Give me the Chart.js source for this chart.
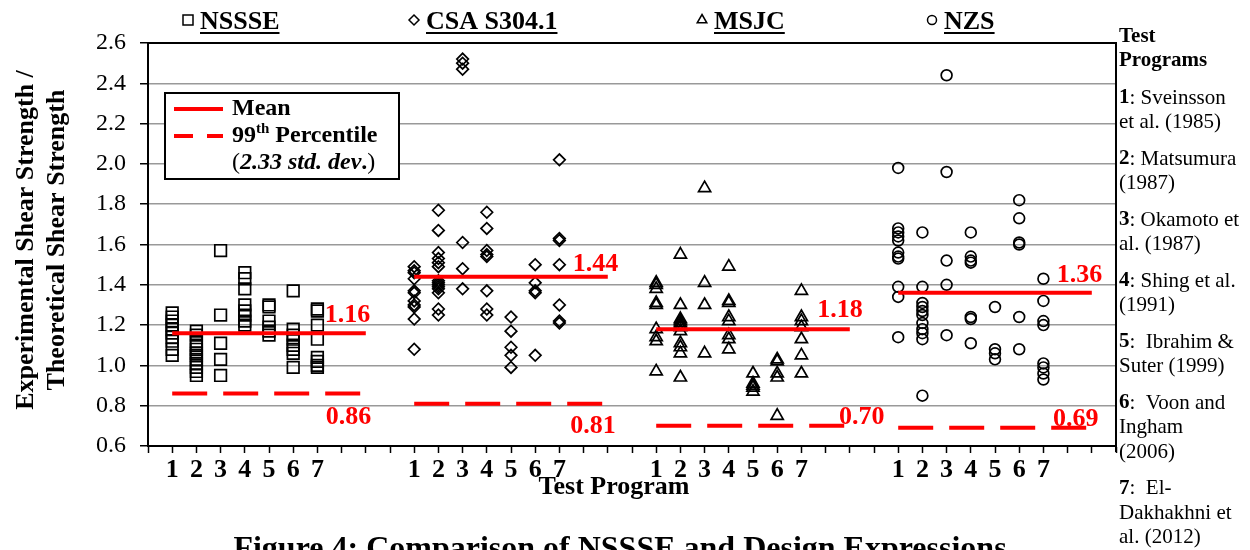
<!DOCTYPE html>
<html>
<head>
<meta charset="utf-8">
<script src="https://cdn.jsdelivr.net/npm/chart.js@4.4.1/dist/chart.umd.min.js"></script>
<style>
  body { margin: 0; background: #fff; }
  #wrap { width: 1250px; height: 550px; }
</style>
</head>
<body>
<div id="wrap"><canvas id="myChart" width="1250" height="550"></canvas></div>
<script>
const fontFamily = "'Liberation Serif', 'Times New Roman', serif"

// design expressions and test programs
const methods = ['NSSSE', 'CSA S304.1', 'MSJC', 'NZS']
const programLabels = ['1', '2', '3', '4', '5', '6', '7']
const groupStep = 10 // x units from one method to the next

// experimental / theoretical shear strength, one list per test program
const nssse = [
  [1.26, 1.24, 1.22, 1.20, 1.18, 1.16, 1.14, 1.12, 1.08, 1.05],
  [1.17, 1.15, 1.12, 1.10, 1.08, 1.06, 1.05, 1.03, 1.01, 0.99, 0.97, 0.95],
  [1.57, 1.25, 1.11, 1.03, 0.95],
  [1.46, 1.43, 1.38, 1.30, 1.27, 1.25, 1.22, 1.20],
  [1.30, 1.29, 1.22, 1.19, 1.17, 1.15],
  [1.37, 1.18, 1.15, 1.13, 1.10, 1.08, 1.06, 0.99],
  [1.28, 1.27, 1.20, 1.13, 1.04, 1.02, 1.00, 0.99]
]
const csa = [
  [1.49, 1.47, 1.46, 1.43, 1.37, 1.36, 1.32, 1.30, 1.29, 1.23, 1.08],
  [1.77, 1.67, 1.56, 1.53, 1.51, 1.49, 1.42, 1.41, 1.40, 1.39, 1.38, 1.36, 1.28, 1.25],
  [2.52, 2.50, 2.47, 1.61, 1.48, 1.38],
  [1.76, 1.68, 1.57, 1.55, 1.54, 1.37, 1.28, 1.25],
  [1.24, 1.17, 1.09, 1.05, 0.99],
  [1.50, 1.41, 1.37, 1.36, 1.05],
  [2.02, 1.63, 1.62, 1.50, 1.30, 1.22, 1.21]
]
const msjc = [
  [1.41, 1.40, 1.38, 1.31, 1.30, 1.18, 1.14, 1.12, 0.97],
  [1.55, 1.30, 1.23, 1.22, 1.21, 1.20, 1.19, 1.17, 1.11, 1.09, 1.06, 0.94],
  [1.88, 1.41, 1.30, 1.06],
  [1.49, 1.32, 1.31, 1.24, 1.22, 1.15, 1.13, 1.08],
  [0.96, 0.91, 0.90, 0.89, 0.87],
  [1.03, 1.02, 0.96, 0.94, 0.75],
  [1.37, 1.24, 1.22, 1.19, 1.13, 1.05, 0.96]
]
const nzs = [
  [1.98, 1.68, 1.66, 1.64, 1.62, 1.56, 1.54, 1.53, 1.39, 1.34, 1.14],
  [1.66, 1.39, 1.31, 1.29, 1.27, 1.25, 1.21, 1.18, 1.16, 1.13, 0.85],
  [2.44, 1.96, 1.52, 1.40, 1.15],
  [1.66, 1.54, 1.52, 1.51, 1.24, 1.23, 1.11],
  [1.29, 1.08, 1.06, 1.03],
  [1.82, 1.73, 1.61, 1.60, 1.24, 1.08],
  [1.43, 1.32, 1.22, 1.20, 1.01, 0.99, 0.96, 0.93]
]
const allResults = [nssse, csa, msjc, nzs]

const means = [1.16, 1.44, 1.18, 1.36]
const pct99 = [0.86, 0.81, 0.70, 0.69]

const yMin = 0.6
const yMax = 2.6
const yStep = 0.2

const references = [
  ['1', ': Sveinsson', 'et al. (1985)'],
  ['2', ': Matsumura', '(1987)'],
  ['3', ': Okamoto et', 'al. (1987)'],
  ['4', ': Shing et al.', '(1991)'],
  ['5', ':  Ibrahim &', 'Suter (1999)'],
  ['6', ':  Voon and', 'Ingham', '(2006)'],
  ['7', ':  El-', 'Dakhakhni et', 'al. (2012)']
]

// marker looks
const pointStyles = ['rect', 'rectRot', 'triangle', 'circle']
const pointRadii = [8.2, 5.8, 7, 5.4]
const headerX = [188, 414, 702, 932]

// where the red value labels sit: [x offset in program units, y offset in px]
const meanLabelPos = [[7.3, -18], [7.55, -12], [7.65, -19], [7.55, -18]]
const pctLabelPos = [[7.35, 24], [7.45, 23], [8.55, -9], [7.4, -9]]

function toPoints(results, g) {
  const pts = []
  results.forEach((vals, p) => {
    vals.forEach(v => pts.push({ x: g * groupStep + p + 1, y: v }))
  })
  return pts
}

function levelLine(value, g) {
  return [{ x: g * groupStep + 1, y: value }, { x: g * groupStep + 9, y: value }]
}

const lineSets = []
means.forEach((m, g) => {
  lineSets.push({
    data: levelLine(m, g), showLine: true, pointRadius: 0,
    borderColor: '#ff0000', borderWidth: 4
  })
})
pct99.forEach((m, g) => {
  lineSets.push({
    data: levelLine(m, g), showLine: true, pointRadius: 0,
    borderColor: '#ff0000', borderWidth: 4, borderDash: [35, 16]
  })
})

const pointSets = allResults.map((res, g) => ({
  label: methods[g],
  data: toPoints(res, g),
  pointStyle: pointStyles[g],
  pointRadius: pointRadii[g],
  backgroundColor: 'rgba(0,0,0,0)',
  borderColor: '#000',
  borderWidth: 1.7
}))

function setFont(ctx, size, weight = 'normal', style = 'normal') {
  ctx.font = `${style} ${weight} ${size}px ${fontFamily}`
}

function drawMarker(ctx, style, x, y, r) {
  ctx.beginPath()
  if (style === 'rect') {
    ctx.rect(x - r, y - r, 2 * r, 2 * r)
  } else if (style === 'rectRot') {
    ctx.moveTo(x, y - r); ctx.lineTo(x + r, y); ctx.lineTo(x, y + r); ctx.lineTo(x - r, y); ctx.closePath()
  } else if (style === 'triangle') {
    ctx.moveTo(x, y - r); ctx.lineTo(x + r * 0.87, y + r * 0.5); ctx.lineTo(x - r * 0.87, y + r * 0.5); ctx.closePath()
  } else {
    ctx.arc(x, y, r, 0, Math.PI * 2)
  }
  ctx.stroke()
}

// draw text made of several runs with different fonts
function drawRuns(ctx, runs, x, y) {
  runs.forEach(r => {
    setFont(ctx, r.size, r.weight || 'normal', r.style || 'normal')
    ctx.fillText(r.t, x, y + (r.dy || 0))
    x += ctx.measureText(r.t).width
  })
  return x
}

const decorations = {
  id: 'decorations',
  afterDraw(chart) {
    const { ctx, chartArea: a, scales: { x, y } } = chart
    ctx.save()

    // top and right frame
    ctx.strokeStyle = '#000'
    ctx.lineWidth = 2
    ctx.beginPath()
    ctx.moveTo(a.left, a.top)
    ctx.lineTo(a.right, a.top)
    ctx.lineTo(a.right, a.bottom + 6)
    ctx.stroke()

    // method headers
    ctx.fillStyle = '#000'
    ctx.textAlign = 'left'
    ctx.textBaseline = 'alphabetic'
    methods.forEach((m, g) => {
      ctx.lineWidth = 1.5
      drawMarker(ctx, pointStyles[g], headerX[g], 20, [5, 5, 5.5, 4.5][g])
      setFont(ctx, 26, 'bold')
      const tx = headerX[g] + 12
      ctx.fillText(m, tx, 29)
      const w = ctx.measureText(m).width
      ctx.lineWidth = 2
      ctx.beginPath()
      ctx.moveTo(tx, 33)
      ctx.lineTo(tx + w, 33)
      ctx.stroke()
    })

    // red value labels
    ctx.fillStyle = '#ff0000'
    ctx.textBaseline = 'middle'
    setFont(ctx, 26, 'bold')
    means.forEach((m, g) => {
      const p = meanLabelPos[g]
      ctx.fillText(m.toFixed(2), x.getPixelForValue(g * groupStep + p[0]), y.getPixelForValue(m) + p[1])
    })
    pct99.forEach((m, g) => {
      const p = pctLabelPos[g]
      ctx.fillText(m.toFixed(2), x.getPixelForValue(g * groupStep + p[0]), y.getPixelForValue(m) + p[1])
    })

    // legend box
    ctx.fillStyle = '#fff'
    ctx.fillRect(165, 93, 234, 86)
    ctx.strokeStyle = '#000'
    ctx.lineWidth = 2
    ctx.strokeRect(165, 93, 234, 86)
    ctx.strokeStyle = '#ff0000'
    ctx.lineWidth = 4
    ctx.beginPath(); ctx.moveTo(174, 109); ctx.lineTo(223, 109); ctx.stroke()
    ctx.setLineDash([19, 14])
    ctx.beginPath(); ctx.moveTo(174, 136); ctx.lineTo(223, 136); ctx.stroke()
    ctx.setLineDash([])
    ctx.fillStyle = '#000'
    drawRuns(ctx, [{ t: 'Mean', size: 24, weight: 'bold' }], 232, 109)
    drawRuns(ctx, [
      { t: '99', size: 24, weight: 'bold' },
      { t: 'th', size: 15, weight: 'bold', dy: -7 },
      { t: ' Percentile', size: 24, weight: 'bold' }
    ], 232, 136)
    drawRuns(ctx, [
      { t: '(', size: 24 },
      { t: '2.33 std. dev', size: 24, weight: 'bold', style: 'italic' },
      { t: '.', size: 24, weight: 'bold' },
      { t: ')', size: 24 }
    ], 232, 163)

    // y axis title
    setFont(ctx, 26, 'bold')
    ctx.textAlign = 'center'
    ctx.save()
    ctx.translate(26, 240)
    ctx.rotate(-Math.PI / 2)
    ctx.fillText('Experimental Shear Strength /', 0, 0)
    ctx.fillText('Theoretical Shear Strength', 0, 31)
    ctx.restore()

    // x axis title
    ctx.fillText('Test Program', 614, 487)

    // test program list
    ctx.textAlign = 'left'
    setFont(ctx, 21, 'bold')
    ctx.fillText('Test', 1119, 37)
    ctx.fillText('Programs', 1119, 61)
    let ly = 98
    references.forEach(ref => {
      drawRuns(ctx, [{ t: ref[0], size: 21, weight: 'bold' }, { t: ref[1], size: 21 }], 1119, ly)
      for (let i = 2; i < ref.length; i++) {
        ly += 24.5
        setFont(ctx, 21)
        ctx.fillText(ref[i], 1119, ly)
      }
      ly += 36.5
    })

    // figure caption, cut by the bottom edge
    ctx.textAlign = 'center'
    ctx.textBaseline = 'alphabetic'
    setFont(ctx, 32, 'bold')
    ctx.fillText('Figure 4: Comparison of NSSSE and Design Expressions', 620, 558)

    ctx.restore()
  }
}

const ctx = document.getElementById('myChart').getContext('2d')

new Chart(ctx, {
  type: 'scatter',
  data: {
    datasets: [...lineSets, ...pointSets]
  },
  options: {
    responsive: false,
    animation: false,
    devicePixelRatio: 1,
    layout: {
      padding: { left: 0, top: 43, right: 134, bottom: 0 }
    },
    plugins: {
      legend: { display: false },
      tooltip: { enabled: false }
    },
    scales: {
      x: {
        type: 'linear',
        min: 0,
        max: methods.length * groupStep,
        afterFit: scale => { scale.height = 104 },
        ticks: {
          stepSize: 1,
          autoSkip: false,
          maxRotation: 0,
          padding: 2,
          color: '#000',
          font: { family: fontFamily, size: 26, weight: 'bold' },
          callback: v => {
            const r = Math.round(v) % groupStep
            return (r >= 1 && r <= programLabels.length) ? programLabels[r - 1] : ''
          }
        },
        grid: {
          drawOnChartArea: false,
          tickLength: 7,
          tickColor: '#000',
          tickWidth: 1.5
        },
        border: { color: '#000', width: 2 }
      },
      y: {
        min: yMin,
        max: yMax,
        afterFit: scale => { scale.width = 148 },
        ticks: {
          stepSize: yStep,
          padding: 14,
          color: '#000',
          font: { family: fontFamily, size: 24 },
          callback: v => v.toFixed(1)
        },
        grid: {
          color: '#999',
          lineWidth: 1.5,
          tickLength: 8,
          tickColor: '#000',
          tickWidth: 1.5
        },
        border: { color: '#000', width: 2 }
      }
    }
  },
  plugins: [decorations]
})
</script>
</body>
</html>
